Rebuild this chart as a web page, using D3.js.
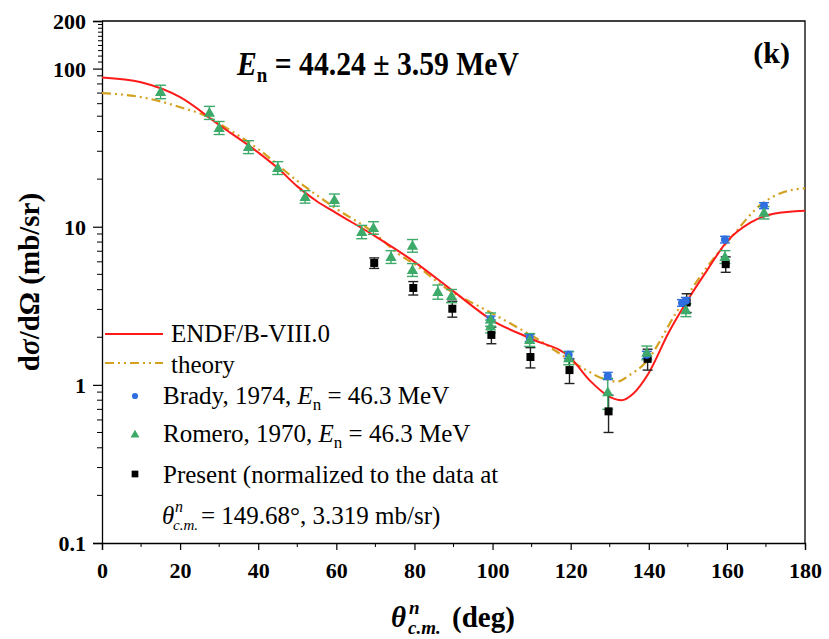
<!DOCTYPE html>
<html><head><meta charset="utf-8">
<script src="https://cdn.jsdelivr.net/npm/d3@7"></script>
<style>body{margin:0;background:#fff}svg{display:block}</style>
</head><body>
<svg id="c" width="829" height="639"></svg>
<script>
// ---- data ----
const endfAngle = [0,10,20,30,40,45,50,55,60,70,80,90,100,110,120,125,130,133,136,140,145,150,155,160,166,172,180];
const endfValue = [88,82,66,44,29.5,23.5,18,14.5,12.2,8.7,6.0,3.9,2.55,1.95,1.48,1.06,0.84,0.80,0.88,1.19,2.12,3.45,5.34,8.05,10.6,12.1,12.6];
const theoAngle = [0,10,15,20,27.5,30,40,50,60,70,76,80,88,98,110,124,128,132,135,139,147,155,161,169,175,180];
const theoValue = [70,66,62,57,49,45,31,19.5,13,9,6.7,5.8,4.1,3.0,2.05,1.24,1.10,1.05,1.15,1.37,2.85,5.6,8.5,14.0,16.7,17.5];

const bradyAngle = [99.5,109.5,119.5,129.5,139.5,148.5,149.5,159.5,169.5];
const bradyValue = [2.6,1.98,1.55,1.14,1.55,3.3,3.4,8.3,13.6];
const bradyErr   = [0.12,0.1,0.08,0.06,0.08,0.16,0.17,0.4,0.6];

const romeroAngle = [15,27.5,30,37.5,45,52,59.5,66.5,69.5,74,79.5,79.5,86,89.5,99.5,99.5,109.5,119.5,129.5,139.5,149.5,159.5,169.5];
const romeroValue = [71.5,52.7,42.3,32,23.6,15.5,14.8,9.3,9.86,6.46,7.6,5.35,3.88,3.66,2.6,2.35,1.93,1.48,0.90,1.6,2.98,6.46,12.3];
const romeroErr   = [7,5,4,3,2.2,1.4,1.3,0.9,0.9,0.6,0.7,0.5,0.4,0.35,0.25,0.22,0.18,0.14,0.2,0.16,0.28,0.6,1.1];

const presentAngle = [69.7,79.7,89.7,99.7,109.7,119.7,129.7,139.7,149.7,159.7];
const presentValue = [5.9,4.1,3.03,2.07,1.5,1.24,0.68,1.46,3.319,5.8];
const presentErr   = [0.45,0.4,0.35,0.25,0.22,0.22,0.18,0.22,0.45,0.65];

const xTicks = [0,20,40,60,80,100,120,140,160,180];
const yTicks = [0.1,1,10,100,200];

// ---- layout ----
const L=102, R=805, T=21, B=543;
const svg = d3.select('#c');
const x = d3.scaleLinear().domain([0,180]).range([L,R]);
const y = d3.scaleLog().domain([0.1,200]).range([B,T]);
const FONT = "'Liberation Serif','Times New Roman',serif";

svg.append('clipPath').attr('id','pc').append('rect')
  .attr('x',L).attr('y',T).attr('width',R-L).attr('height',B-T);

// axes
const xAxis = d3.axisBottom(x).tickValues(xTicks).tickSize(7).tickFormat(d3.format('d'));
const gx = svg.append('g').attr('transform',`translate(0,${B})`).call(xAxis);
const xMinor = d3.range(10,180,20);
svg.append('g').selectAll('line').data(xMinor).join('line')
  .attr('x1',d=>x(d)).attr('x2',d=>x(d)).attr('y1',B).attr('y2',B+4)
  .attr('stroke','#000').attr('stroke-width',1);

const yAxis = d3.axisLeft(y).tickValues(yTicks).tickSize(9).tickFormat(d=>String(d));
const gy = svg.append('g').attr('transform',`translate(${L},0)`).call(yAxis);
const yMinor = [];
[0.1,1,10].forEach(dec=>{for(let k=2;k<=9;k++) yMinor.push(dec*k);});
for(let k=11;k<=19;k++) yMinor.push(k*10);
svg.append('g').selectAll('line').data(yMinor).join('line')
  .attr('x1',d=>L-(d>100?4:5)).attr('x2',L).attr('y1',d=>y(d)).attr('y2',d=>y(d))
  .attr('stroke','#000').attr('stroke-width',1);

[gx,gy].forEach(g=>{
  g.select('.domain').attr('stroke','#000').attr('stroke-width',1.3);
  g.selectAll('.tick line').attr('stroke','#000').attr('stroke-width',1.2);
  g.selectAll('.tick text').attr('font-family',FONT).attr('font-weight','bold')
    .attr('font-size',22).attr('fill','#000');
});
gx.selectAll('.tick text').attr('y',35).attr('dy',0);
gy.selectAll('.tick text').attr('x',-16).attr('dy','0.34em');

// frame top/right
svg.append('path').attr('d',`M${L},${T}H${R}V${B}`).attr('fill','none')
  .attr('stroke','#000').attr('stroke-width',1.3);

// curves
const plot = svg.append('g').attr('clip-path','url(#pc)');
const line = d3.line().curve(d3.curveMonotoneX).x(d=>x(d[0])).y(d=>y(d[1]));
plot.append('path').datum(theoAngle.map((a,i)=>[a,theoValue[i]])).attr('d',line)
  .attr('fill','none').attr('stroke','#d4a020').attr('stroke-width',2.2)
  .attr('stroke-dasharray','9,4,2,4,2,4');
plot.append('path').datum(endfAngle.map((a,i)=>[a,endfValue[i]])).attr('d',line)
  .attr('fill','none').attr('stroke','#ff1a1a').attr('stroke-width',2);

function errBars(ang,val,err,color,cap){
  const g = plot.append('g').attr('stroke',color).attr('stroke-width',1.4);
  ang.forEach((a,i)=>{
    const lo=Math.max(val[i]-err[i],0.11), hi=val[i]+err[i];
    g.append('line').attr('x1',x(a)).attr('x2',x(a)).attr('y1',y(lo)).attr('y2',y(hi));
    g.append('line').attr('x1',x(a)-cap).attr('x2',x(a)+cap).attr('y1',y(lo)).attr('y2',y(lo));
    g.append('line').attr('x1',x(a)-cap).attr('x2',x(a)+cap).attr('y1',y(hi)).attr('y2',y(hi));
  });
}
const cBlue='#2f6fe0', cGreen='#3daa6a', cBlack='#000';
errBars(presentAngle,presentValue,presentErr,'#222',5);
errBars(bradyAngle,bradyValue,bradyErr,cBlue,5);
errBars(romeroAngle,romeroValue,romeroErr,cGreen,5.5);

const symSq=d3.symbol().type(d3.symbolSquare).size(64);
const symTri=d3.symbol().type(d3.symbolTriangle).size(55);
const symCir=d3.symbol().type(d3.symbolCircle).size(50);
plot.append('g').selectAll('path').data(presentAngle).join('path')
  .attr('d',symSq).attr('fill',cBlack)
  .attr('transform',(d,i)=>`translate(${x(d)},${y(presentValue[i])})`);
plot.append('g').selectAll('path').data(bradyAngle).join('path')
  .attr('d',symCir).attr('fill',cBlue)
  .attr('transform',(d,i)=>`translate(${x(d)},${y(bradyValue[i])})`);
plot.append('g').selectAll('path').data(romeroAngle).join('path')
  .attr('d',symTri).attr('fill',cGreen)
  .attr('transform',(d,i)=>`translate(${x(d)},${y(romeroValue[i])+1})`);

// title
const title = svg.append('text').attr('transform','translate(237,75) scale(0.9,1)')
  .attr('font-family',FONT).attr('font-weight','bold').attr('font-size',33);
title.append('tspan').attr('font-style','italic').text('E');
title.append('tspan').attr('font-size',21).attr('dy',7).text('n');
title.append('tspan').attr('dy',-7).text(' = 44.24 ± 3.59 MeV');
svg.append('text').attr('x',790).attr('y',63).attr('text-anchor','end')
  .attr('font-family',FONT).attr('font-weight','bold').attr('font-size',30).text('(k)');

// legend
const lg = svg.append('g').attr('font-family',FONT).attr('font-size',25).attr('fill','#000');
lg.append('line').attr('x1',105).attr('x2',163).attr('y1',334).attr('y2',334)
  .attr('stroke','#ff1a1a').attr('stroke-width',2);
lg.append('text').attr('x',171).attr('y',342).text('ENDF/B-VIII.0');
lg.append('line').attr('x1',105).attr('x2',163).attr('y1',363).attr('y2',363)
  .attr('stroke','#d4a020').attr('stroke-width',2.2).attr('stroke-dasharray','9,4,2,4,2,4');
lg.append('text').attr('x',171).attr('y',373).text('theory');
lg.append('path').attr('d',symCir.size(30)).attr('fill',cBlue).attr('transform','translate(135,396)');
const t1 = lg.append('text').attr('x',163).attr('y',404);
t1.append('tspan').text('Brady, 1974, ');
t1.append('tspan').attr('font-style','italic').text('E');
t1.append('tspan').attr('font-size',17).attr('dy',6).text('n');
t1.append('tspan').attr('dy',-6).text(' = 46.3 MeV');
lg.append('path').attr('d',symTri.size(35)).attr('fill',cGreen).attr('transform','translate(135,435)');
const t2 = lg.append('text').attr('x',163).attr('y',442);
t2.append('tspan').text('Romero, 1970, ');
t2.append('tspan').attr('font-style','italic').text('E');
t2.append('tspan').attr('font-size',17).attr('dy',6).text('n');
t2.append('tspan').attr('dy',-6).text(' = 46.3 MeV');
lg.append('path').attr('d',symSq.size(45)).attr('fill',cBlack).attr('transform','translate(135,474)');
lg.append('text').attr('x',163).attr('y',483).text('Present (normalized to the data at');
const t3 = lg.append('text').attr('y',524);
t3.append('tspan').attr('x',162).attr('font-style','italic').text('θ');
t3.append('tspan').attr('x',175).attr('y',512).attr('font-style','italic').attr('font-size',16).text('n');
t3.append('tspan').attr('x',173).attr('y',530).attr('font-style','italic').attr('font-size',15).text('c.m.');
t3.append('tspan').attr('x',201).attr('y',524).text('= 149.68°, 3.319 mb/sr)');

// axis titles
const yl = svg.append('text').attr('transform','translate(39,282) rotate(-90)').attr('text-anchor','middle')
  .attr('font-family',FONT).attr('font-weight','bold').attr('font-size',29);
yl.append('tspan').text('d');
yl.append('tspan').attr('font-style','italic').text('σ');
yl.append('tspan').text('/dΩ (mb/sr)');

const xl = svg.append('text').attr('y',627)
  .attr('font-family',FONT).attr('font-weight','bold').attr('font-size',29);
xl.append('tspan').attr('x',391).attr('font-style','italic').text('θ');
xl.append('tspan').attr('x',409).attr('y',614).attr('font-style','italic').attr('font-size',19).text('n');
xl.append('tspan').attr('x',408).attr('y',634).attr('font-style','italic').attr('font-size',19).text('c.m.');
xl.append('tspan').attr('x',452).attr('y',627).text('(deg)');
</script>
</body></html>
